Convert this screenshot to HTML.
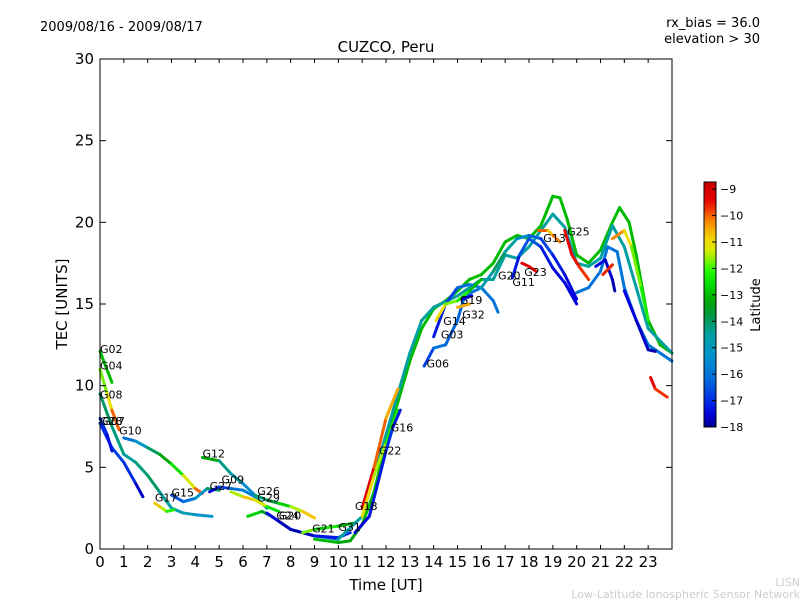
<!DOCTYPE html>
<html><head><meta charset="utf-8"><style>
body{margin:0;background:#fff;}
svg text{font-family:"DejaVu Sans","Liberation Sans",sans-serif;}
</style></head><body>
<svg id="chart" width="800" height="600" viewBox="0 0 800 600" xmlns="http://www.w3.org/2000/svg">
<defs>
<linearGradient id="cmap" x1="0" y1="1" x2="0" y2="0"></linearGradient>
</defs>
<text x="40" y="31" font-size="13">2009/08/16 - 2009/08/17</text>
<text x="760" y="27" font-size="13" text-anchor="end">rx_bias = 36.0</text>
<text x="760" y="43" font-size="13" text-anchor="end">elevation &gt; 30</text>
<text x="386" y="52" font-size="15" text-anchor="middle">CUZCO, Peru</text>
<g id="plot"></g>
<rect x="100" y="59" width="572" height="490" fill="none" stroke="#000" stroke-width="1"/>
<g id="axes"></g>
<text x="386" y="590" font-size="15" text-anchor="middle">Time [UT]</text>
<text transform="translate(67,304) rotate(-90)" font-size="15" text-anchor="middle">TEC [UNITS]</text>
<rect x="704" y="182" width="12" height="245" fill="url(#cmap)" stroke="#000" stroke-width="1"/>
<g id="cbar"></g>
<text transform="translate(760,305) rotate(-90)" font-size="13" text-anchor="middle">Latitude</text>
<text x="800" y="586" font-size="11" fill="#ccc" text-anchor="end">LISN</text>
<text x="800" y="598" font-size="11" fill="#ccc" text-anchor="end">Low-Latitude Ionospheric Sensor Network</text>
</svg>
<script>
const xTicks=[0,1,2,3,4,5,6,7,8,9,10,11,12,13,14,15,16,17,18,19,20,21,22,23];
const yTicks=[0,5,10,15,20,25,30];
const cbarTicks=[-9,-10,-11,-12,-13,-14,-15,-16,-17,-18];
const trkNames=["A","G07","G28","G02","G04","G10","G17","G15","G12","G09","G26","G29b","YG","G24","G21","G31","GD","G18","G22","G16","G06","G03","G14","G32","G19","G11","G23","G13","G25","CY","BL1","BL2","OR","RD1","RD2"];
const trkT=[
[0,0.5,1,1.5,2,2.5,3,3.5,4,4.7],
[0,0.5,1,1.5,1.8],
[0,0.3,0.5],
[0,0.5],
[0,0.3,0.5,0.8],
[1,1.5,2,2.5,3,3.5,4,4.3],
[2.3,2.6,2.8,3.1],
[3,3.5,4,4.5,5],
[4.3,5,5.5,6,6.5],
[4.6,5,5.5,6,6.5,7],
[5.5,6,6.5,7,7.5],
[6.5,7,7.5,8,8.5,9],
[6.2,6.8,7.2,8,9,10],
[7,7.5,8,9,10,10.5],
[8.5,9,9.5,10,10.7],
[9,10,10.5,11,11.5,12,12.5,13,13.5,14,14.5,15,15.5,16,16.5,17,17.5,18,18.5,19,19.3,19.6,20,20.5,21,21.5,21.8,22.2,22.5,23,23.5,24],
[10,11,12,13,13.5,14,15,16,16.5,17,17.5,18,18.5,19,19.5,20,20.5,21,21.5,22,22.5,23,24],
[11,11.5,12,12.5],
[11,11.5,12,12.5],
[10.7,11.3,12,12.3,12.6],
[13.6,14,14.5,15,15.3,16,16.5,16.7],
[14,14.5,15,15.5,16,16.5,17,17.5,18,18.5,19,19.5,20],
[14.1,14.5,15,15.5,16],
[15,15.5],
[15.2,15.6],
[17.3,17.6,18,18.5,19,19.5,20],
[17.7,18,18.3],
[18.4,18.8,19,19.3],
[19.5,19.8,20.1,20.5],
[20,20.5,21,21.3,21.7,22,22.5,23,23.5,24],
[20.8,21.2,21.5,21.6],
[22,22.5,23,23.3],
[21.5,22,22.3,22.7,23],
[21.1,21.5],
[23.1,23.3,23.8]];
const trkV=[
[9.5,7.5,5.8,5.3,4.5,3.5,2.5,2.2,2.1,2.0],
[7.7,6.2,5.3,4.0,3.2],
[8,7,6],
[12.1,10.2],
[11,9.5,8.5,7.3],
[6.8,6.6,6.2,5.8,5.2,4.5,3.7,3.4],
[2.8,2.5,2.3,2.4],
[3.3,2.9,3.1,3.7,3.6],
[5.6,5.4,4.6,4.0,3.3],
[3.5,3.8,3.7,3.6,3.2,2.5],
[3.5,3.2,3.0,2.6,2.3],
[3.3,3.0,2.8,2.6,2.3,1.9],
[2.0,2.3,2.0,1.2,0.8,0.6],
[2.2,1.7,1.2,0.8,0.7,1.0],
[1.0,1.2,1.3,1.4,1.6],
[0.6,0.4,0.5,1.5,3.5,6.5,9,11.5,13.5,14.7,15.2,15.8,16.5,16.8,17.5,18.8,19.2,19,19.8,21.6,21.5,20.2,18,17.5,18.3,20,20.9,20,18,14,12.5,12],
[0.6,2,7,12,14,14.8,15.5,16.5,16.5,18,17.8,18.5,19.5,20.5,19.7,17.5,17.3,17.8,19.8,18.5,16,13.5,12],
[2.5,5,8,9.8],
[2,4.5,6.5,8.5],
[1.0,2.0,6,7.5,8.5],
[11.2,12.3,12.5,14,15.5,16,15.2,14.5],
[13,15,16,16.2,16,17,18.2,19,19.2,19,18,16.8,15.3],
[14,15,15.2,15.8,16.5],
[14.8,15],
[15.3,15.5],
[16.6,18,19,18.5,17.2,16.3,15],
[17.5,17.3,17.0],
[19.5,19.5,19.2,18.8],
[19.5,18,17.3,16.5],
[15.7,16,17,18.5,18.2,16,14,12.5,12,11.5],
[17.3,17.7,16.5,15.8],
[15.8,14,12.2,12.1],
[19,19.5,18.5,16,14],
[16.8,17.4],
[10.5,9.8,9.3]];
const trkL=[
[-14,-14,-14.5,-14.5,-14,-14,-15,-14.5,-15,-15.5],
[-17,-17,-16.5,-17.5,-17.8],
[-17,-17.2,-17.5],
[-13,-13],
[-12,-11.5,-10.5,-9.5],
[-16,-16,-14.5,-13.5,-13,-12,-10.5,-9.5],
[-10.5,-11,-12,-12.5],
[-17,-16,-16,-14.5,-13.5],
[-12.5,-14,-14.5,-15,-16],
[-17.5,-17.5,-16,-16,-15.5,-14],
[-12,-11,-10.5,-12,-13],
[-14.5,-14,-13.5,-12,-11,-10.5],
[-12.5,-13,-14,-15,-16,-16.5],
[-17.5,-17.5,-18,-17.5,-17,-17],
[-9.5,-14,-12,-12.5,-14],
[-13,-13,-13.5,-13,-13,-13,-13,-13,-13,-13,-13,-13,-13,-13,-13,-13,-13,-13,-13,-13,-13,-13,-13,-13,-13,-13,-13,-13,-13,-13,-13,-13],
[-14.5,-14.5,-14.5,-14.5,-14.5,-14.5,-14.5,-14.5,-14.5,-14.5,-14.5,-14.5,-14.5,-14.5,-14.5,-14.5,-14.5,-14.5,-14.5,-14.5,-14.5,-14.5,-14.5],
[-9,-9.5,-10.5,-10.5],
[-11,-11,-12,-12.5],
[-17.5,-17.5,-17,-17,-17.5],
[-17.5,-16,-16,-16.5,-16,-16,-16,-16],
[-17.5,-17,-16.5,-16,-15.5,-14,-14,-15,-16,-16.5,-17,-17.5,-17.5],
[-10.5,-11.5,-12,-12.5,-13.5],
[-10.5,-10.5],
[-17.5,-17.5],
[-17.5,-17,-16,-17,-17.5,-17.5,-17.5],
[-9.2,-9.3,-9.5],
[-9.5,-10.5,-11,-9.3],
[-9.3,-9.5,-9.5,-10],
[-16,-16,-16,-16,-16,-16,-16,-16,-16,-16],
[-17.5,-17.5,-17.8,-17.8],
[-17.5,-17.5,-17.8,-17.8],
[-10,-10.5,-11.5,-12,-12.5],
[-9.5,-9.8],
[-9.3,-9.5,-10]];
const satLabels=["G02","G04","G08","G28","G07","G10","G17","G15","G12","G27","G09","G26","G29","G24","G20","G21","G31","G18","G16","G22","G06","G03","G14","G32","G19","G20","G11","G23","G13","G25"];
const satLabT=[0,0,0,0,0.1,0.8,2.3,3.0,4.3,4.6,5.1,6.6,6.6,7.4,7.5,8.9,10.0,10.7,12.2,11.7,13.7,14.3,14.4,15.2,15.1,16.7,17.3,17.8,18.6,19.6];
const satLabV=[12,11,9.2,7.6,7.6,7,2.9,3.2,5.6,3.6,4.0,3.3,2.9,1.8,1.8,1.0,1.1,2.4,7.2,5.8,11.1,12.9,13.7,14.1,15.0,16.5,16.1,16.7,18.8,19.2];

const NS="http://www.w3.org/2000/svg";
const X0=100,X1=672,Y0=549,Y1=59;
const xs=t=>X0+t*(X1-X0)/24;
const ys=v=>Y0-v*(Y0-Y1)/30;
const LMIN=-18,LMAX=-8.73;
const cy=l=>427-(l-LMIN)*(427-182)/(LMAX-LMIN);
const CS=[[0,[0,0,140]],[0.05,[0,0,220]],[0.1,[0,40,230]],[0.2,[0,110,220]],[0.3,[0,150,200]],[0.38,[0,160,160]],[0.46,[0,150,60]],[0.52,[0,170,0]],[0.58,[0,220,0]],[0.64,[40,250,0]],[0.69,[150,240,0]],[0.72,[210,235,0]],[0.76,[240,220,0]],[0.8,[245,180,0]],[0.85,[245,120,0]],[0.89,[240,50,0]],[0.93,[230,0,0]],[1,[200,0,0]]];
function cmap(l){let x=(l-LMIN)/(LMAX-LMIN);x=Math.max(0,Math.min(1,x));
 for(let i=0;i<CS.length-1;i++){const a=CS[i],b=CS[i+1];if(x<=b[0]){const f=(x-a[0])/(b[0]-a[0]);
  const c=a[1].map((v,k)=>Math.round(v+(b[1][k]-v)*f));return `rgb(${c[0]},${c[1]},${c[2]})`;}}
 return 'rgb(200,0,0)';}
function mk(tag,attrs,parent){const e=document.createElementNS(NS,tag);for(const k in attrs)e.setAttribute(k,attrs[k]);parent.appendChild(e);return e;}
const grad=document.getElementById('cmap');
CS.forEach(s=>mk('stop',{offset:s[0],'stop-color':`rgb(${s[1].join(',')})`},grad));
const plot=document.getElementById('plot');
trkT.forEach((ts,i)=>{
 const g=mk('g',{},plot);
 
 
 for(let j=0;j<ts.length-1;j++){
  const s=mk('line',{x1:xs(ts[j]),y1:ys(trkV[i][j]),x2:xs(ts[j+1]),y2:ys(trkV[i][j+1]),stroke:cmap((trkL[i][j]+trkL[i][j+1])/2),'stroke-width':3,'stroke-linecap':'round'},g);
  
  
 }
});
satLabels.forEach((n,i)=>{
 const t=mk('text',{x:xs(satLabT[i]),y:ys(satLabV[i]),'font-size':11},plot);
 
 
 t.textContent=n;
});
const axes=document.getElementById('axes');
xTicks.forEach(t=>{
 mk('line',{x1:xs(t),y1:Y0,x2:xs(t),y2:Y0-4,stroke:'#000'},axes);
 mk('line',{x1:xs(t),y1:Y1,x2:xs(t),y2:Y1+4,stroke:'#000'},axes);
 const tx=mk('text',{x:xs(t),y:Y0+18,'font-size':15,'text-anchor':'middle'},axes);
 
 
 tx.textContent=t;
});
yTicks.forEach(v=>{
 mk('line',{x1:X0,y1:ys(v),x2:X0+6,y2:ys(v),stroke:'#000'},axes);
 mk('line',{x1:X1,y1:ys(v),x2:X1-6,y2:ys(v),stroke:'#000'},axes);
 const tx=mk('text',{x:X0-6,y:ys(v)+5,'font-size':15,'text-anchor':'end'},axes);
 
 
 tx.textContent=v;
});
const cb=document.getElementById('cbar');
cbarTicks.forEach(l=>{
 mk('line',{x1:712,y1:cy(l),x2:716,y2:cy(l),stroke:'#000'},cb);
 const tx=mk('text',{x:720,y:cy(l)+4,'font-size':11},cb);
 
 
 tx.textContent='\u2212'+Math.abs(l);
});
</script>
</body></html>
